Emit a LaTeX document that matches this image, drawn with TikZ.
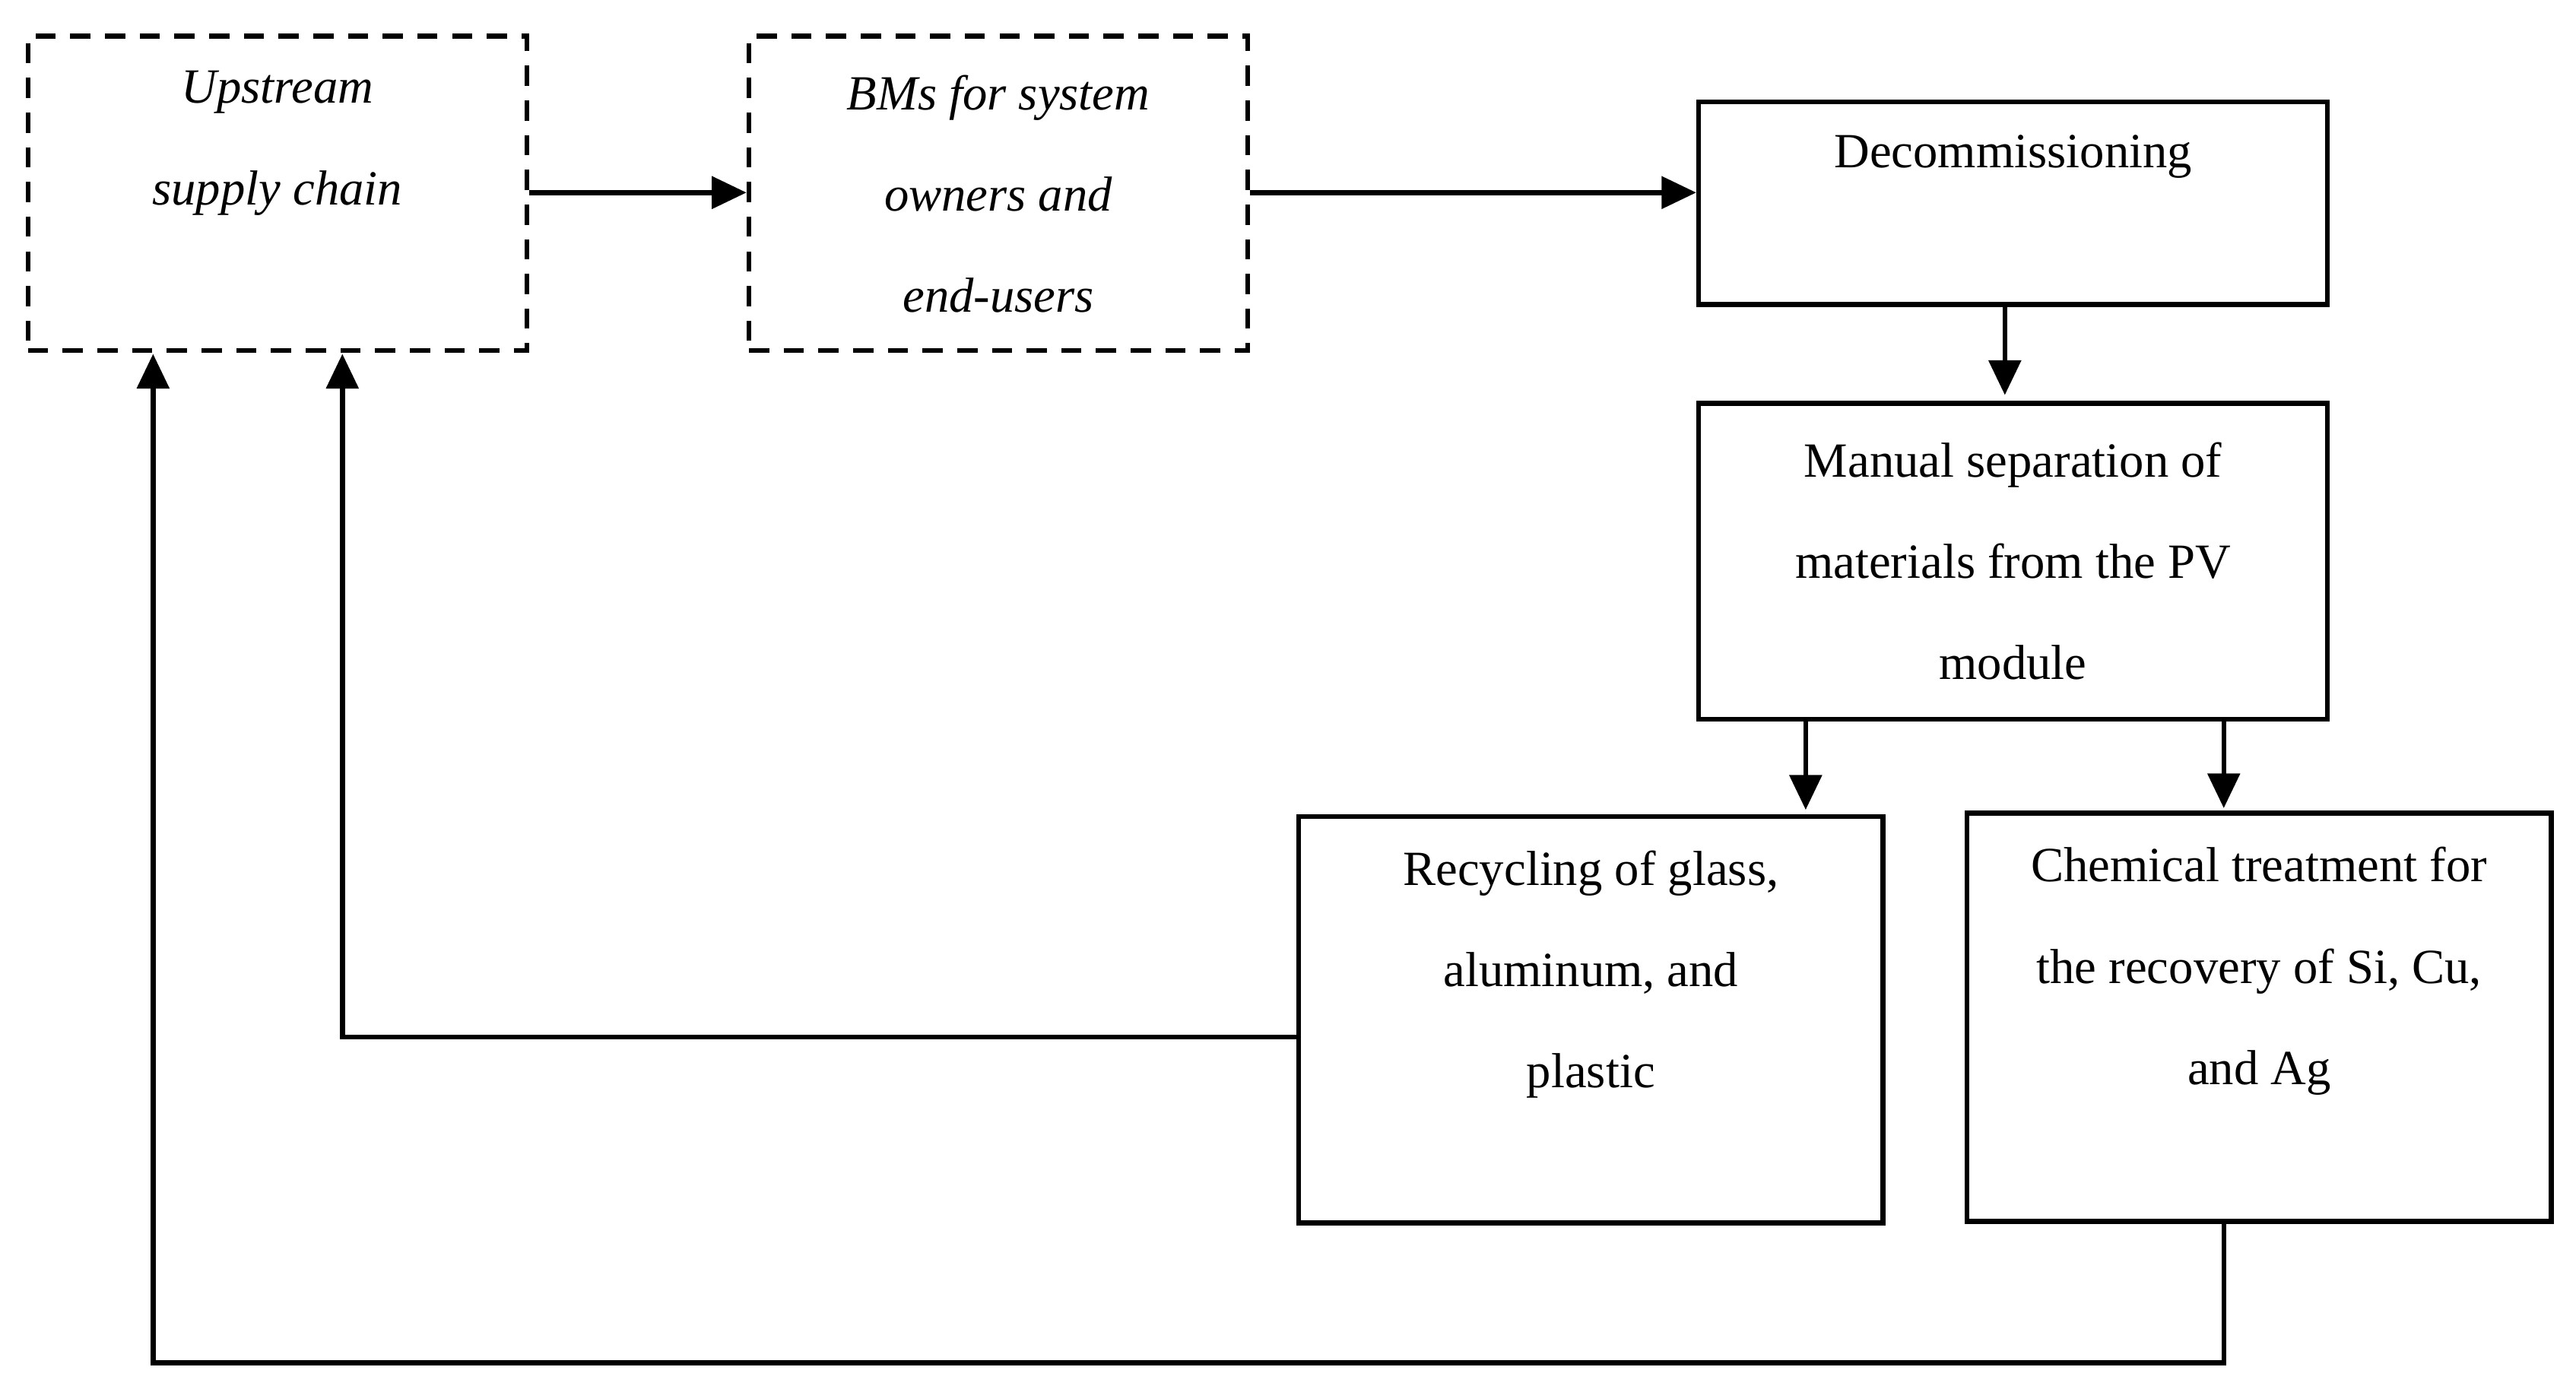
\documentclass[tikz,border=0pt]{standalone}
\usepackage{fontspec}
\setmainfont{Liberation Serif}
\usetikzlibrary{arrows.meta}
\begin{document}
\begin{tikzpicture}[x=0.02cm,y=-0.02cm,
  box/.style={draw,line width=1.7pt,inner sep=0pt},
  dbox/.style={box,dash pattern=on 7pt off 5pt},
  txt/.style={align=center,font=\fontsize{17}{35}\selectfont},
  arr/.style={line width=1.7pt,-{Triangle[length=12pt,width=11pt]}},
  ln/.style={line width=1.7pt}]
\useasboundingbox (0,0) rectangle (1565,842);
\node[dbox,minimum width=303*0.02cm,minimum height=191*0.02cm] (up) at (168.5,117.5) {};
\node[txt,font=\fontsize{17}{35}\selectfont\itshape] (upt) at (168.5,87) {Upstream\\supply chain};
\node[dbox,minimum width=303*0.02cm,minimum height=191*0.02cm] (bm) at (606.5,117.5) {};
\node[txt,font=\fontsize{17}{35}\selectfont\itshape] (bmt) at (606.5,118) {BMs for system\\owners and\\end-users};
\node[box,minimum width=382*0.02cm,minimum height=123*0.02cm] (dec) at (1223,123.5) {};
\node[txt] (dect) at (1223,95) {Decommissioning};
\node[box,minimum width=382*0.02cm,minimum height=192*0.02cm] (man) at (1223,341) {};
\node[txt] (mant) at (1223,341) {Manual separation of\\materials from the PV\\module};
\node[box,minimum width=355*0.02cm,minimum height=247*0.02cm] (rec) at (966.5,619.5) {};
\node[txt] (rect) at (966.5,592) {Recycling of glass,\\aluminum, and\\plastic};
\node[box,minimum width=355*0.02cm,minimum height=248*0.02cm] (che) at (1372.5,618) {};
\node[txt] (chet) at (1372.5,590) {Chemical treatment for\\the recovery of Si, Cu,\\and Ag};
\coordinate (c1) at (93,828);
\coordinate (c2) at (1351,828);
\coordinate (r1) at (208,630);
\draw[arr] (up.east|-0,117) -- (bm.west|-0,117);
\draw[arr] (bm.east|-0,117) -- (dec.west|-0,117);
\draw[arr] (1218,185) -- (1218,240);
\draw[arr] (1097,437) -- (1097,492);
\draw[arr] (1351,437) -- (1351,491);
\draw[arr] (rec.west|-0,630) -- (r1) -- (208,215);
\draw[arr] (che.south-|1351,0) -- (c2) -- (c1) -- (93,215);
\end{tikzpicture}
\end{document}
